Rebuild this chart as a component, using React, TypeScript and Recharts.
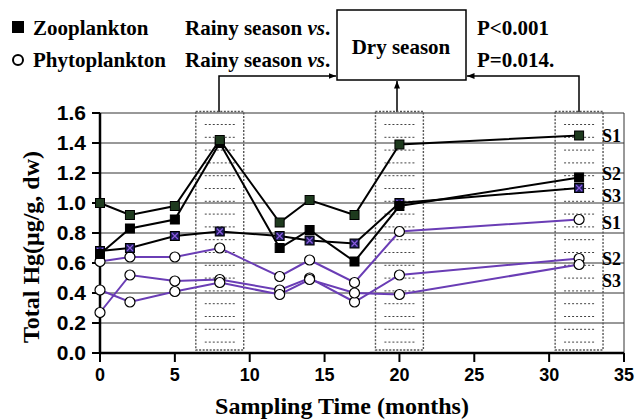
import React from "react";
import {
  LineChart,
  Line,
  XAxis,
  YAxis,
  CartesianGrid,
  ReferenceArea,
  ReferenceLine,
  Customized,
} from "recharts";

// sampling months and Hg values
const months = [0, 2, 5, 8, 12, 14, 17, 20, 32];
const zooS1 = [1.0, 0.92, 0.98, 1.42, 0.87, 1.02, 0.92, 1.39, 1.45];
const zooS2 = [0.66, 0.83, 0.89, 1.4, 0.7, 0.82, 0.61, 0.98, 1.17];
const zooS3 = [0.68, 0.7, 0.78, 0.81, 0.78, 0.75, 0.73, 1.0, 1.1];
const phyS1 = [0.61, 0.64, 0.64, 0.7, 0.51, 0.62, 0.47, 0.81, 0.89];
const phyS2 = [0.27, 0.52, 0.48, 0.49, 0.42, 0.5, 0.34, 0.52, 0.63];
const phyS3 = [0.42, 0.34, 0.41, 0.47, 0.39, 0.49, 0.4, 0.39, 0.59];

const dryMonths = [8, 20, 32];
const xTicks = [0, 5, 10, 15, 20, 25, 30, 35];
const yTicks = [0, 0.2, 0.4, 0.6, 0.8, 1.0, 1.2, 1.4, 1.6];

const data = months.map((m, i) => ({
  month: m,
  zooS1: zooS1[i],
  zooS2: zooS2[i],
  zooS3: zooS3[i],
  phyS1: phyS1[i],
  phyS2: phyS2[i],
  phyS3: phyS3[i],
}));

const SERIF = "'Liberation Serif', 'Times New Roman', serif";
const SANS = "'Liberation Sans', Arial, sans-serif";
const PURPLE = "#6a3db5";
const LAST = months.length - 1;

function endLabel(cx: number, cy: number, text: string, dy: number) {
  return (
    <text
      x={cx + 23}
      y={cy + dy + 6}
      fontFamily={SERIF}
      fontWeight={700}
      fontSize={18}
      fill="#000"
    >
      {text}
    </text>
  );
}

const zooDot =
  (fill: string, cross: boolean, label: string, dy: number) => (p: any) => {
    const { cx, cy, index } = p;
    if (cx == null || cy == null) return <g key={index} />;
    return (
      <g key={index}>
        <rect
          x={cx - 4.5}
          y={cy - 4.5}
          width={9}
          height={9}
          fill={fill}
          stroke="#000"
          strokeWidth={1}
        />
        {cross && (
          <path
            d={`M${cx - 3},${cy - 3}L${cx + 3},${cy + 3}M${cx + 3},${cy - 3}L${cx - 3},${cy + 3}`}
            stroke="#8a5ae0"
            strokeWidth={1.2}
          />
        )}
        {index === LAST && endLabel(cx, cy, label, dy)}
      </g>
    );
  };

const phyDot = (label: string, dy: number) => (p: any) => {
  const { cx, cy, index } = p;
  if (cx == null || cy == null) return <g key={index} />;
  return (
    <g key={index}>
      <circle cx={cx} cy={cy} r={5} fill="#fff" stroke="#000" strokeWidth={1.2} />
      {index === LAST && endLabel(cx, cy, label, dy)}
    </g>
  );
};

// dotted box with short dotted dashes inside
const DryBox = (p: any) => {
  const { x, y, width, height } = p;
  const cx = x + width / 2;
  const rows = [];
  for (let yy = y + 13; yy < y + height - 4; yy += 12.8) {
    rows.push(
      <line
        key={yy}
        x1={cx - 15}
        x2={cx + 15}
        y1={yy}
        y2={yy}
        stroke="#444"
        strokeWidth={1}
        strokeDasharray="2 2"
      />
    );
  }
  return (
    <g>
      <rect
        x={x}
        y={y}
        width={width}
        height={height}
        fill="none"
        stroke="#555"
        strokeWidth={1.4}
        strokeDasharray="2 1.5"
      />
      {rows}
    </g>
  );
};

const Annotation = () => {
  const txt = { fontFamily: SERIF, fontWeight: 700, fontSize: 21, fill: "#000" };
  return (
    <g>
      <defs>
        <marker
          id="arrowHead"
          viewBox="0 0 10 10"
          refX="10"
          refY="5"
          markerWidth="5"
          markerHeight="5"
          orient="auto"
        >
          <path d="M0,1L10,5L0,9z" fill="#000" />
        </marker>
      </defs>
      {/* legend */}
      <rect x={12} y={21} width={12} height={12} fill="#000" />
      <circle cx={18} cy={60} r={5} fill="#fff" stroke="#000" strokeWidth={2} />
      <text x={33} y={35} {...txt}>Zooplankton</text>
      <text x={33} y={67} {...txt}>Phytoplankton</text>
      <text x={185} y={35} {...txt}>
        Rainy season <tspan fontStyle="italic">vs</tspan>.
      </text>
      <text x={185} y={67} {...txt}>
        Rainy season <tspan fontStyle="italic">vs</tspan>.
      </text>
      <rect x={337} y={10} width={129} height={70} fill="#fff" stroke="#000" strokeWidth={1.5} />
      <text x={401} y={54} textAnchor="middle" {...txt}>Dry season</text>
      <text x={477} y={35} {...txt}>P&lt;0.001</text>
      <text x={477} y={67} {...txt}>P=0.014.</text>
      {/* arrows */}
      <polyline
        points="219,112 219,76 336,76"
        fill="none"
        stroke="#000"
        strokeWidth={1.5}
        markerEnd="url(#arrowHead)"
      />
      <polyline
        points="397,112 397,81"
        fill="none"
        stroke="#000"
        strokeWidth={1.5}
        markerEnd="url(#arrowHead)"
      />
      <polyline
        points="579,112 579,76 467,76"
        fill="none"
        stroke="#000"
        strokeWidth={1.5}
        markerEnd="url(#arrowHead)"
      />
      {/* axis titles */}
      <text x={342} y={414} textAnchor="middle" {...txt} fontSize={24}>
        Sampling Time (months)
      </text>
      <text
        x={39}
        y={247}
        textAnchor="middle"
        transform="rotate(-90 39 247)"
        {...txt}
        fontSize={24}
      >
        Total Hg(μg/g, dw)
      </text>
    </g>
  );
};

export default function App() {
  const tickTextX = { fontFamily: SANS, fontWeight: 700, fontSize: 18, fill: "#000" };
  const tickTextY = { fontFamily: SANS, fontWeight: 700, fontSize: 21, fill: "#000" };
  return (
    <div style={{ position: "absolute", left: 0, top: 0, width: 635, height: 419, background: "#fff" }}>
      <LineChart
        width={635}
        height={419}
        data={data}
        margin={{ top: 113, right: 11, bottom: 10, left: 40 }}
      >
        <CartesianGrid vertical={false} stroke="#333" strokeWidth={1} />
        <XAxis
          dataKey="month"
          type="number"
          domain={[0, 35]}
          ticks={xTicks}
          interval={0}
          height={56}
          tick={tickTextX}
          tickSize={9}
          tickMargin={6}
          tickLine={{ stroke: "#000", strokeWidth: 2 }}
          axisLine={{ stroke: "#000", strokeWidth: 2.5 }}
        />
        <YAxis
          type="number"
          domain={[0, 1.6]}
          ticks={yTicks}
          interval={0}
          width={60}
          tick={tickTextY}
          tickFormatter={(v: number) => v.toFixed(1)}
          tickSize={8}
          tickMargin={6}
          tickLine={{ stroke: "#000", strokeWidth: 2 }}
          axisLine={{ stroke: "#000", strokeWidth: 2.5 }}
        />
        <ReferenceLine x={35} stroke="#333" strokeWidth={1} />
        {dryMonths.map((m) => (
          <ReferenceArea
            key={m}
            x1={m - 1.6}
            x2={m + 1.6}
            y1={0.02}
            y2={1.61}
            ifOverflow="visible"
            shape={DryBox}
          />
        ))}
        <Line dataKey="phyS1" stroke={PURPLE} strokeWidth={2} isAnimationActive={false} dot={phyDot("S1", 3.5)} />
        <Line dataKey="phyS2" stroke={PURPLE} strokeWidth={2} isAnimationActive={false} dot={phyDot("S2", 0)} />
        <Line dataKey="phyS3" stroke={PURPLE} strokeWidth={2} isAnimationActive={false} dot={phyDot("S3", 16.5)} />
        <Line dataKey="zooS3" stroke="#000" strokeWidth={2} isAnimationActive={false} dot={zooDot("#1b1b55", true, "S3", 8)} />
        <Line dataKey="zooS2" stroke="#000" strokeWidth={2} isAnimationActive={false} dot={zooDot("#000", false, "S2", -3.5)} />
        <Line dataKey="zooS1" stroke="#000" strokeWidth={2} isAnimationActive={false} dot={zooDot("#1e3a1e", false, "S1", 0.5)} />
        <Customized component={Annotation} />
      </LineChart>
    </div>
  );
}
